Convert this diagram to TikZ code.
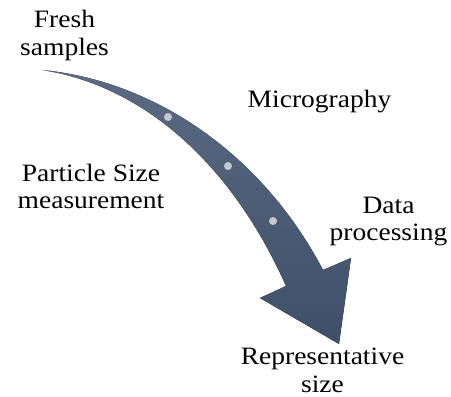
\documentclass[tikz,border=0pt]{standalone}
\usepackage{fontspec}
\setmainfont[FakeStretch=1.1]{Liberation Serif}
\begin{document}
\begin{tikzpicture}[x=1pt,y=-1pt,
  lbl/.style={align=center,anchor=base,inner sep=0pt,font=\fontsize{25}{27.3}\selectfont,text=black},
  dotmark/.style={fill=dotgray,draw=none},
  arrowbody/.style={top color=arrowtop,bottom color=arrowbot,draw=none}]
\definecolor{arrowtop}{HTML}{5C6A82}
\definecolor{arrowbot}{HTML}{3E4F69}
\definecolor{dotgray}{HTML}{C5C8CF}
\useasboundingbox (0,0) rectangle (451,397);
\coordinate (tail) at (42,70);
\coordinate (rneck) at (323,270);
\coordinate (rbarb) at (351,258);
\coordinate (tip) at (339,344);
\coordinate (lbarb) at (260,298);
\coordinate (lneck) at (286,286);
\fill[arrowbody] (tail) .. controls (150,80) and (260,150) .. (rneck)
  -- (rbarb) -- (tip) -- (lbarb) -- (lneck)
  .. controls (230,160) and (140,85) .. (tail) -- cycle;
\fill[dotmark] (168,117) circle (4);
\fill[dotmark] (228,166) circle (4);
\fill[dotmark] (273,221) circle (4);
\node[lbl] (fresh) at (64.5,55) {Fresh\\samples};
\node[lbl] (micro) at (319.5,107.7) {Micrography};
\node[lbl] (particle) at (91,208.5) {Particle Size\\measurement};
\node[lbl] (data) at (388.5,240.5) {Data\\processing};
\node[lbl] (repr) at (322.5,392) {Representative\\size};
\end{tikzpicture}
\end{document}
